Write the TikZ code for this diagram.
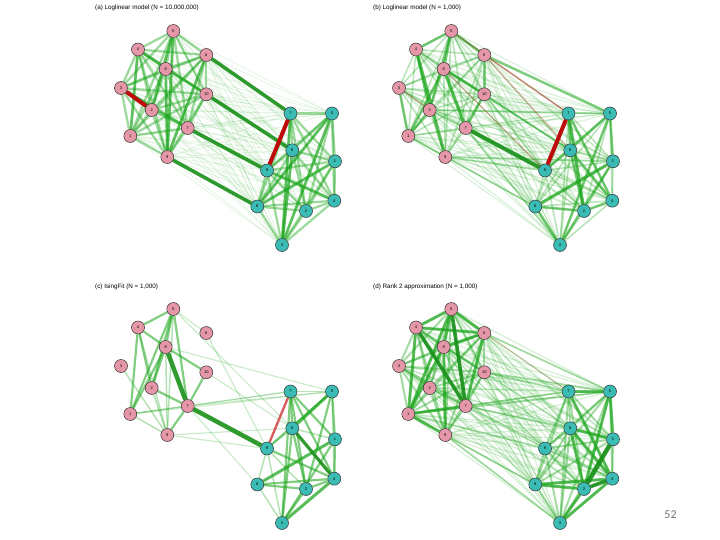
\documentclass[tikz,border=0pt]{standalone}
\usepackage{fontspec}
\setmainfont{Liberation Sans}
\newfontfamily\numfont{Carlito}
\usetikzlibrary{backgrounds}
\definecolor{qg}{RGB}{25,165,25}
\definecolor{qgd}{RGB}{25,145,25}
\definecolor{qr}{RGB}{190,10,10}
\definecolor{qrl}{RGB}{215,95,95}
\definecolor{pk}{RGB}{229,151,168}
\definecolor{tl}{RGB}{58,188,180}
\tikzset{
  pnode/.style={circle, draw=black!80, line width=0.5pt, fill=pk, minimum size=13pt, inner sep=0pt, font=\fontsize{4}{4}\selectfont},
  tnode/.style={pnode, fill=tl},
  eg/.style 2 args={draw=qg, line width=#1, draw opacity=#2},
  ed/.style={draw=qgd, line width=#1, draw opacity=0.9},
  er/.style 2 args={draw=qr, line width=#1, draw opacity=#2},
  title/.style={anchor=west, font=\fontsize{6.3}{7}\selectfont, inner sep=0pt}
}
\newcommand{\mknodes}[3]{%
  \foreach \n/\x/\y in {5/173.3/31,4/138/49.5,6/206.3/55,8/165.7/69,3/121/88,10/206.3/94.3,2/151.7/110,7/187.7/128,1/130.3/136,9/167.3/157}
    \node[pnode] (#1p\n) at ({\x+#2},{\y+#3}) {\n};
  \foreach \n/\x/\y in {7/290.5/113.5,5/332/113.5,6/292.3/150.3,1/335/161.3,9/267/170.5,8/257.3/206.5,2/306/211,4/334.3/200.7,3/282/245}
    \node[tnode] (#1t\n) at ({\x+#2},{\y+#3}) {\n};
}
\newcommand{\allpink}[2]{%
  \foreach \i [evaluate=\i as \k using int(\i+1)] in {1,...,9}
    \foreach \j in {\k,...,10} \draw[#2] (#1p\i) -- (#1p\j);}
\newcommand{\allteal}[2]{%
  \foreach \i [evaluate=\i as \k using int(\i+1)] in {1,...,8}
    \foreach \j in {\k,...,9} \draw[#2] (#1t\i) -- (#1t\j);}
\newcommand{\allcross}[2]{%
  \foreach \i in {1,...,10}
    \foreach \j in {1,...,9} \draw[#2] (#1p\i) -- (#1t\j);}
\newcommand{\edgeset}[3]{%
  \foreach \u/\v in {#3} \draw[#2] (#1\u) -- (#1\v);}
\begin{document}
\begin{tikzpicture}[x=1pt,y=-1pt]
\useasboundingbox (0,0) rectangle (720,540);
% titles
\node[title] (ta) at (95,7.5) {(a) Loglinear model (N = 10,000,000)};
\node[title] (tb) at (373,7.5) {(b) Loglinear model (N = 1,000)};
\node[title] (tc) at (95,286.5) {(c) IsingFit (N = 1,000)};
\node[title] (td) at (373,286.5) {(d) Rank 2 approximation (N = 1,000)};
\node[anchor=center, inner sep=0pt, text=black!55, font=\numfont\fontsize{12}{12}\selectfont] (pg) at (670.5,515) {52};
% nodes
\mknodes{a}{0}{0}
\mknodes{b}{278}{0}
\mknodes{c}{0}{278}
\mknodes{d}{278}{278}
\begin{pgfonlayer}{background}
% ---------- panel a
\allcross{a}{eg={0.7}{0.13}}
\allpink{a}{eg={2.3}{0.42}}
\allteal{a}{eg={2.3}{0.42}}
\edgeset{a}{eg={2.8}{0.5}}{p5/p2,p4/p1,p8/p9,p5/p9,p4/p10,p6/p9,p3/p7,t7/t3,t5/t8,t6/t3,t1/t8,t9/t4,t5/t3}
\edgeset{a}{ed={3.6}}{p6/t7,p10/t6,p7/t9,p9/t8}
\edgeset{a}{er={4}{1}}{p3/p2,t7/t9}
% ---------- panel b
\allcross{b}{eg={1.1}{0.17}}
\allpink{b}{eg={1.6}{0.3}}
\allteal{b}{eg={1.6}{0.3}}
\edgeset{b}{eg={1.8}{0.32}}{p10/t6,p9/t9,p1/t8,p2/t5,p8/t6,p9/t1,p10/t9,p7/t3}
\edgeset{b}{eg={2.6}{0.5}}{p5/p4,p8/p10,p5/p8,p4/p2,p3/p1,p8/p1,p6/p10,p5/p6,p2/p1,p10/p7,p5/p2,t7/t4,t5/t3,t2/t4,t1/t3,t6/t2,t6/t4,t5/t9,t7/t6,t5/t1,t8/t3,t8/t2,p6/t5}
\edgeset{b}{eg={3.2}{0.68}}{p8/p7,p4/p9,t8/t1,t7/t2}
\edgeset{b}{er={1.4}{0.25}}{p3/p2,p6/t7,p6/t6,p8/t9,p5/t7}
\edgeset{b}{ed={4}}{p7/t9}
\edgeset{b}{er={4}{1}}{t7/t9}
% ---------- panel c
\edgeset{c}{eg={1.2}{0.22}}{p5/t6,p6/t9,p8/t5,p10/t6,p7/t7,p7/t5,p1/t7,p9/t6,p9/t9,p7/t8,p5/p6,p1/t5}
\edgeset{c}{eg={1.5}{0.32}}{p5/p9,p4/p9,p8/p9,p3/p9,p2/p9,p1/p7,p1/p9,t7/t5,t6/t9,t9/t8,t9/t3,t9/t2,t8/t3,t5/t4,t6/t1}
\edgeset{c}{eg={2.2}{0.55}}{p5/p4,p5/p8,p5/p2,p5/p1,p5/p7,p4/p8,p4/p1,p4/p2,p8/p10,p8/p2,p8/p1,p10/p7,p2/p7,p7/p9,t7/t6,t7/t1,t7/t4,t7/t2,t5/t1,t5/t9,t5/t2,t6/t2,t6/t3,t1/t4,t1/t3,t9/t4,t8/t4,t8/t2,t2/t4,t2/t3,t7/t3}
\edgeset{c}{eg={3}{0.72}}{t5/t6,t1/t8,t4/t3}
\edgeset{c}{ed={3.2}}{t6/t4}
\edgeset{c}{ed={4.5}}{p8/p7,p7/t9}
\edgeset{c}{draw=qrl, line width=2.4}{t7/t9}
% ---------- panel d
\allcross{d}{eg={1.2}{0.18}}
\edgeset{d}{eg={1.8}{0.3}}{p7/t7,p10/t5,p6/t5,p9/t8,p1/t9,p7/t6,p10/t7,p1/t5,p9/t3}
\allpink{d}{eg={2}{0.4}}
\allteal{d}{eg={2}{0.4}}
\edgeset{d}{eg={3}{0.62}}{p5/p8,p4/p6,p5/p1,p6/p7,p4/p1,p8/p9,p1/p7,p5/p4,p6/p8,p8/p1,p1/p9,p5/p6,t6/t1,t5/t1,t5/t2,t6/t4,t8/t2,t3/t4,t7/t5,t3/t2,t8/t4,t6/t2,t7/t4}
\edgeset{d}{ed={3.6}}{p4/p7,p5/p7,t2/t4}
\edgeset{d}{ed={4.5}}{t2/t1}
\edgeset{d}{er={0.8}{0.22}}{p6/t7}
\end{pgfonlayer}
\end{tikzpicture}
\end{document}
